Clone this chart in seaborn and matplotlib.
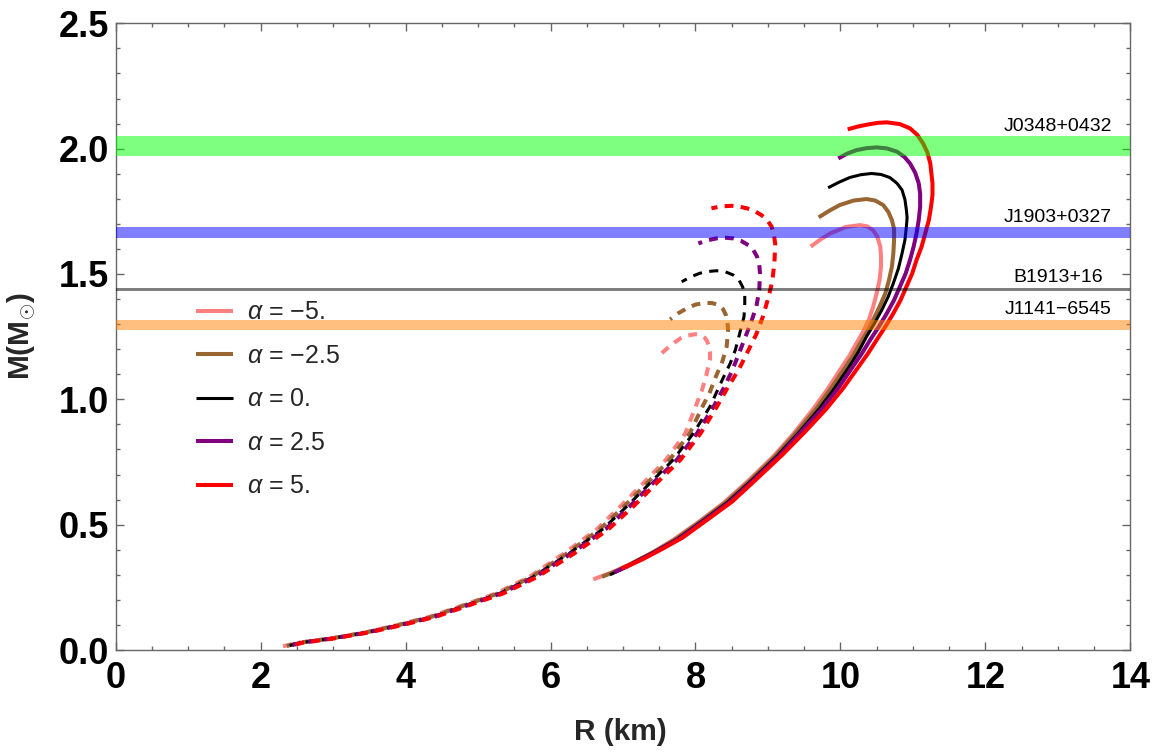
import numpy as np
import pandas as pd
import matplotlib
matplotlib.use("Agg")
import matplotlib.pyplot as plt
from matplotlib.ticker import MultipleLocator
import seaborn as sns

# ---------------- data ----------------
alphas = ["−5.", "−2.5", "0.", "2.5", "5."]
colors = ["#FF8080", "#996633", "#000000", "#800080", "#FF0000"]

# solid branch (R in km, M in Msun)
solid_R = [
    [6.59, 6.85, 7.12, 7.40, 7.69, 8.03, 8.38, 8.72, 9.07, 9.35, 9.62, 9.82, 10.00, 10.12, 10.22, 10.31, 10.39, 10.45, 10.50, 10.54, 10.56,
     10.56, 10.55, 10.51, 10.45, 10.37, 10.27, 10.08, 9.86, 9.72, 9.59],
    [6.71, 6.93, 7.15, 7.43, 7.72, 8.06, 8.41, 8.75, 9.10, 9.38, 9.66, 9.86, 10.05, 10.17, 10.27, 10.37, 10.45, 10.54, 10.62, 10.67, 10.71, 10.73, 10.74,
     10.74, 10.71, 10.66, 10.59, 10.48, 10.36, 10.18, 9.99, 9.85, 9.70],
    [6.82, 7.00, 7.19, 7.46, 7.75, 8.09, 8.44, 8.78, 9.13, 9.42, 9.70, 9.92, 10.12, 10.25, 10.36, 10.47, 10.57, 10.66, 10.73, 10.80, 10.85, 10.89, 10.91,
     10.92, 10.91, 10.89, 10.85, 10.78, 10.68, 10.56, 10.43, 10.28, 10.13, 9.98, 9.83],
    [6.88, 7.05, 7.22, 7.49, 7.78, 8.12, 8.47, 8.81, 9.16, 9.45, 9.74, 9.97, 10.17, 10.30, 10.41, 10.53, 10.64, 10.74, 10.82, 10.90, 10.96, 11.01, 11.05, 11.08, 11.10,
     11.10, 11.08, 11.03, 10.96, 10.88, 10.78, 10.64, 10.50, 10.36, 10.22, 10.09, 9.97],
    [6.98, 7.12, 7.27, 7.54, 7.82, 8.16, 8.51, 8.85, 9.20, 9.51, 9.80, 10.04, 10.25, 10.38, 10.50, 10.62, 10.73, 10.83, 10.91, 10.99, 11.05, 11.12, 11.17, 11.22, 11.25, 11.27, 11.27,
     11.24, 11.20, 11.14, 11.06, 10.96, 10.82, 10.64, 10.52, 10.41, 10.25, 10.10],
]
solid_M = [
    [0.282, 0.310, 0.345, 0.388, 0.439, 0.508, 0.585, 0.673, 0.771, 0.862, 0.960, 1.040, 1.120, 1.172, 1.223, 1.268, 1.316, 1.368, 1.423, 1.476, 1.529,
     1.570, 1.609, 1.648, 1.675, 1.690, 1.695, 1.688, 1.662, 1.637, 1.609],
    [0.292, 0.318, 0.350, 0.392, 0.441, 0.511, 0.587, 0.675, 0.773, 0.864, 0.960, 1.040, 1.120, 1.172, 1.223, 1.270, 1.316, 1.370, 1.423, 1.476, 1.529, 1.582, 1.635,
     1.680, 1.715, 1.748, 1.775, 1.793, 1.799, 1.793, 1.775, 1.753, 1.726],
    [0.300, 0.325, 0.355, 0.396, 0.443, 0.514, 0.589, 0.678, 0.775, 0.866, 0.960, 1.045, 1.130, 1.190, 1.250, 1.303, 1.356, 1.410, 1.463, 1.522, 1.582, 1.636, 1.689,
     1.725, 1.755, 1.797, 1.835, 1.862, 1.885, 1.897, 1.901, 1.896, 1.885, 1.866, 1.844],
    [0.310, 0.332, 0.358, 0.398, 0.445, 0.516, 0.590, 0.680, 0.776, 0.868, 0.960, 1.045, 1.130, 1.185, 1.237, 1.290, 1.343, 1.396, 1.449, 1.502, 1.556, 1.609, 1.662, 1.715, 1.768,
     1.820, 1.862, 1.905, 1.941, 1.968, 1.988, 2.001, 2.005, 2.002, 1.994, 1.980, 1.961],
    [0.325, 0.342, 0.362, 0.403, 0.448, 0.519, 0.593, 0.684, 0.779, 0.870, 0.960, 1.045, 1.130, 1.183, 1.237, 1.290, 1.343, 1.396, 1.449, 1.502, 1.556, 1.609, 1.662, 1.715, 1.768, 1.815, 1.862,
     1.941, 1.985, 2.021, 2.055, 2.081, 2.098, 2.105, 2.103, 2.098, 2.089, 2.077],
]

# dashed branch
dash_R = [
    [2.31, 2.52, 2.98, 3.44, 3.89, 4.34, 4.80, 5.25, 5.71, 6.19, 6.64, 6.96, 7.28, 7.59, 7.86, 8.01, 8.09, 8.15, 8.20,
     8.20, 8.19, 8.16, 8.13, 8.07, 8.00, 7.90, 7.79, 7.66, 7.53],
    [2.36, 2.53, 2.99, 3.45, 3.91, 4.36, 4.82, 5.28, 5.74, 6.23, 6.68, 7.01, 7.33, 7.64, 7.92, 8.10, 8.20, 8.28, 8.37, 8.43, 8.45,
     8.44, 8.42, 8.38, 8.32, 8.23, 8.13, 8.00, 7.88, 7.76, 7.65],
    [2.40, 2.54, 3.00, 3.46, 3.92, 4.38, 4.84, 5.30, 5.76, 6.26, 6.72, 7.05, 7.37, 7.69, 7.97, 8.20, 8.38, 8.48, 8.55, 8.61, 8.67, 8.68,
     8.68, 8.65, 8.60, 8.52, 8.41, 8.29, 8.17, 8.06, 7.93, 7.81],
    [2.44, 2.56, 3.01, 3.47, 3.94, 4.40, 4.86, 5.32, 5.79, 6.29, 6.76, 7.09, 7.41, 7.74, 8.02, 8.25, 8.38, 8.50, 8.60, 8.69, 8.77, 8.84, 8.88, 8.89,
     8.88, 8.85, 8.80, 8.73, 8.63, 8.52, 8.40, 8.29, 8.16, 8.04],
    [2.48, 2.58, 3.03, 3.49, 3.96, 4.42, 4.88, 5.35, 5.82, 6.33, 6.80, 7.14, 7.46, 7.79, 8.07, 8.30, 8.45, 8.60, 8.72, 8.84, 8.93, 9.00, 9.06, 9.09, 9.10,
     9.08, 9.05, 8.99, 8.91, 8.81, 8.71, 8.60, 8.50, 8.36, 8.22],
]
dash_M = [
    [0.015, 0.029, 0.047, 0.070, 0.100, 0.133, 0.179, 0.226, 0.292, 0.386, 0.482, 0.572, 0.665, 0.758, 0.864, 0.977, 1.037, 1.097, 1.160,
     1.190, 1.210, 1.232, 1.245, 1.256, 1.260, 1.255, 1.243, 1.216, 1.183],
    [0.016, 0.029, 0.047, 0.070, 0.100, 0.133, 0.179, 0.226, 0.292, 0.386, 0.482, 0.572, 0.665, 0.758, 0.864, 0.973, 1.030, 1.090, 1.150, 1.210, 1.276,
     1.310, 1.336, 1.360, 1.376, 1.384, 1.385, 1.378, 1.363, 1.343, 1.319],
    [0.018, 0.029, 0.047, 0.070, 0.100, 0.133, 0.179, 0.226, 0.292, 0.386, 0.482, 0.572, 0.665, 0.758, 0.864, 0.971, 1.084, 1.144, 1.197, 1.263, 1.330, 1.383,
     1.420, 1.449, 1.476, 1.496, 1.509, 1.513, 1.510, 1.503, 1.488, 1.469],
    [0.020, 0.029, 0.047, 0.070, 0.100, 0.133, 0.179, 0.226, 0.292, 0.386, 0.482, 0.572, 0.665, 0.758, 0.864, 0.971, 1.040, 1.110, 1.183, 1.250, 1.310, 1.370, 1.436, 1.503,
     1.538, 1.569, 1.595, 1.615, 1.632, 1.642, 1.645, 1.642, 1.634, 1.622],
    [0.022, 0.029, 0.047, 0.070, 0.100, 0.133, 0.179, 0.226, 0.292, 0.386, 0.482, 0.572, 0.665, 0.758, 0.864, 0.973, 1.050, 1.120, 1.190, 1.260, 1.330, 1.400, 1.470, 1.550, 1.620,
     1.660, 1.689, 1.715, 1.735, 1.752, 1.762, 1.769, 1.772, 1.770, 1.762],
]

# pulsar mass bands
pulsars = ["J0348+0432", "J1903+0327", "B1913+16", "J1141−6545"]
band_lo = [1.972, 1.645, 1.434, 1.277]
band_hi = [2.050, 1.687, 1.446, 1.317]
band_colors = ["#00FF00", "#0000FF", "#000000", "#FF8000"]

# ---------------- style ----------------
sns.set_theme(style="ticks")
plt.rcParams["font.family"] = ["Liberation Sans", "DejaVu Sans"]
plt.rcParams["mathtext.fontset"] = "custom"
plt.rcParams["mathtext.rm"] = "Liberation Sans"
plt.rcParams["mathtext.it"] = "Liberation Sans:italic"
plt.rcParams["mathtext.bf"] = "Liberation Sans:bold"

fig = plt.figure(figsize=(11.52, 7.52), dpi=100)
ax = fig.add_axes([0.1004, 0.1356, 0.8808, 0.8334])

frames = []
for i, a in enumerate(alphas):
    frames.append(pd.DataFrame({"R": dash_R[i], "M": dash_M[i], "alpha": a, "branch": "dashed"}))
    frames.append(pd.DataFrame({"R": solid_R[i], "M": solid_M[i], "alpha": a, "branch": "solid"}))
df = pd.concat(frames, ignore_index=True)

handles = []
for i, a in enumerate(alphas):
    black = colors[i] == "#000000"
    lw = 2.2 if black else 2.9
    d = df[(df.alpha == a) & (df.branch == "dashed")]
    sns.lineplot(data=d, x="R", y="M", sort=False, estimator=None, ax=ax,
                 color=colors[i], lw=lw, legend=False,
                 linestyle=(0, (3.0, 2.4)) if black else (0, (2.2, 1.8)),
                 dash_capstyle="butt", dash_joinstyle="round")
    s = df[(df.alpha == a) & (df.branch == "solid")]
    sns.lineplot(data=s, x="R", y="M", sort=False, estimator=None, ax=ax,
                 color=colors[i], lw=lw, legend=False,
                 solid_capstyle="butt", solid_joinstyle="round")
    handles.append(ax.lines[-1])
    handles[-1].set_label(r"$\alpha$ = " + a)

for k, name in enumerate(pulsars):
    ax.axhspan(band_lo[k], band_hi[k], color=band_colors[k], alpha=0.5, lw=0, zorder=5)
    ax.text(13.0, band_hi[k] + 0.006, name, ha="center", va="bottom",
            fontsize=14, color="black", zorder=6)

ax.set_xlabel("")
ax.set_ylabel("")
ax.xaxis.set_major_locator(MultipleLocator(2))
ax.xaxis.set_minor_locator(MultipleLocator(0.5))
ax.yaxis.set_major_locator(MultipleLocator(0.5))
ax.yaxis.set_minor_locator(MultipleLocator(0.1))
ax.set_xlim(0, 14)
ax.set_ylim(0, 2.5)
xt = np.arange(0, 15, 2)
yt = np.arange(0, 2.51, 0.5)
ax.set_xticks(xt)
ax.set_xticklabels([f"{int(v)}" for v in xt])
ax.set_yticks(yt)
ax.set_yticklabels([f"{v:.1f}" for v in yt])
ax.set_xlim(0, 14)
ax.set_ylim(0, 2.5)
ax.tick_params(which="both", direction="in", top=True, right=True,
               color="#666666", width=1.0, labelcolor="black")
ax.tick_params(which="major", length=6, labelsize=26)
ax.tick_params(which="minor", length=3.2)
ax.tick_params(axis="x", which="major", pad=8)
ax.tick_params(axis="y", which="major", pad=5)
for lab in ax.get_xticklabels() + ax.get_yticklabels():
    lab.set_fontweight("bold")
for sp in ax.spines.values():
    sp.set_color("#666666")
    sp.set_linewidth(1.0)

fig.text(620 / 1152, 1 - 731.7 / 752, "R (km)", ha="center", va="center",
         fontsize=21.5, fontweight="bold")
fig.text(22 / 1152, 1 - 336 / 752, r"M(M$_{\odot}$)", ha="center", va="center",
         rotation=90, fontsize=21.5, fontweight="bold")

leg = ax.legend(handles=handles, loc="upper left", bbox_to_anchor=(0.079, 0.558),
                frameon=False, fontsize=18, handlelength=1.5, handletextpad=0.55,
                labelspacing=0.78, borderpad=0, borderaxespad=0)
leg.set_zorder(7)

fig.savefig("out.png", dpi=100)
